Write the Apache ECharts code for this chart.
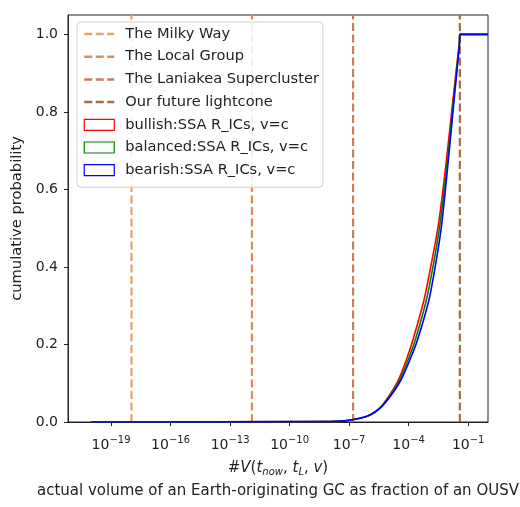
<!DOCTYPE html>
<html>
<head>
<meta charset="utf-8">
<script src="https://cdn.jsdelivr.net/npm/echarts@6/dist/echarts.min.js"></script>
<style>
  html, body { margin: 0; padding: 0; background: #fff; }
  #main { width: 520px; height: 507px; }
</style>
</head>
<body>
<div id="main"></div>
<script>
// x positions given as log10 of the volume fraction, y as cumulative probability
var bullishExp = [-20, -7.97, -7.21, -6.46, -5.95, -5.48, -5.02, -4.52, -4.12, -3.79, -3.23, -2.85, -2.52, -2.27, -2.04, -1.77, -1.45, -1.42, 0];
var balancedExp = [-20, -7.97, -7.21, -6.46, -5.95, -5.46, -4.98, -4.45, -4.03, -3.67, -3.11, -2.74, -2.44, -2.21, -1.99, -1.74, -1.44, -1.42, 0];
var bearishExp = [-20, -7.97, -7.21, -6.46, -5.95, -5.45, -4.94, -4.39, -3.94, -3.56, -2.98, -2.63, -2.35, -2.15, -1.95, -1.71, -1.43, -1.42, 0];
var cumProb = [0, 0.001, 0.003, 0.0095, 0.018, 0.035, 0.065, 0.108, 0.160, 0.211, 0.314, 0.410, 0.503, 0.598, 0.701, 0.830, 0.977, 1.0, 1.0];

var markerNames = ['The Milky Way', 'The Local Group', 'The Laniakea Supercluster', 'Our future lightcone'];
var markerExp = [-17.97, -11.9, -6.8, -1.42];
var markerColors = ['#e6a669', '#e38b52', '#c3805f', '#a86a44'];

var curveNames = ['bullish:SSA R_ICs, v=c', 'balanced:SSA R_ICs, v=c', 'bearish:SSA R_ICs, v=c'];
var curveColors = ['#ff0000', '#008000', '#0000ff'];

var xTickExp = [-19, -16, -13, -10, -7, -4, -1];
var yTicks = [0, 0.2, 0.4, 0.6, 0.8, 1.0];

var font = 'DejaVu Sans';

function toPairs(expArr, probArr) {
    var out = [];
    for (var i = 0; i < expArr.length; i++) {
        out.push([Math.pow(10, expArr[i]), probArr[i]]);
    }
    return out;
}

function each(arr, fn) {
    for (var i = 0; i < arr.length; i++) fn(i, arr[i]);
}

var series = [];

// vertical dashed reference lines
each(markerNames, function (i, name) {
    var xv = Math.pow(10, markerExp[i]);
    series.push({
        name: name,
        type: 'line',
        symbol: 'none',
        silent: true,
        z: 2,
        lineStyle: { color: markerColors[i], width: 2.2, type: [8, 3.5] },
        itemStyle: { color: markerColors[i] },
        data: [[xv, 0], [xv, 1.05]]
    });
});

// cumulative curves
var curveData = [bullishExp, balancedExp, bearishExp];
each(curveNames, function (i, name) {
    series.push({
        name: name,
        type: 'line',
        symbol: 'none',
        smooth: 0.2,
        z: 3 + i,
        lineStyle: { color: curveColors[i], width: 1.6 },
        itemStyle: { color: curveColors[i] },
        data: toPairs(curveData[i], cumProb)
    });
});

var legendData = [];
each(markerNames, function (i, name) {
    // hide the default symbol drawn on line legend icons
    legendData.push({
        name: name,
        itemStyle: { color: 'rgba(0,0,0,0)', borderWidth: 0, opacity: 0 },
        lineStyle: { color: markerColors[i], width: 2.5, type: [8, 3.5] }
    });
});
each(curveNames, function (i, name) {
    legendData.push({
        name: name,
        icon: 'rect',
        itemStyle: { color: '#ffffff', borderColor: curveColors[i], borderWidth: 1.2 }
    });
});

var option = {
    backgroundColor: '#ffffff',
    animation: false,
    textStyle: { fontFamily: font },
    grid: {
        left: 68, right: 32, top: 15, bottom: 85,
        outerBoundsMode: 'none',
        show: true, borderColor: '#222', borderWidth: 1
    },
    legend: {
        orient: 'vertical',
        left: 77, top: 22,
        padding: [4, 4, 9, 6],
        itemWidth: 30, itemHeight: 11,
        itemGap: 6.7,
        backgroundColor: 'rgba(255,255,255,0.85)',
        borderColor: '#d0d0d0', borderWidth: 1, borderRadius: 4,
        textStyle: { fontFamily: font, fontSize: 14.6, color: '#222', lineHeight: 16, padding: [0, 0, 0, 6] },
        data: legendData
    },
    xAxis: {
        type: 'log',
        logBase: 10,
        min: Math.pow(10, -21.17),
        max: Math.pow(10, 0),
        splitLine: { show: false },
        axisLine: { lineStyle: { color: '#222' } },
        axisTick: { length: 4, lineStyle: { color: '#222' }, customValues: xTickExp.map(function (e) { return Math.pow(10, e); }) },
        axisLabel: {
            margin: 16,
            customValues: xTickExp.map(function (e) { return Math.pow(10, e); }),
            formatter: function (v) {
                var e = Math.round(Math.log(v) / Math.LN10);
                return '{b|10}{s|\u2212' + Math.abs(e) + '}';
            },
            rich: {
                b: { fontFamily: font, fontSize: 14, color: '#222', lineHeight: 14 },
                s: { fontFamily: font, fontSize: 10, color: '#222', lineHeight: 10, padding: [0, 0, 9, 0] }
            }
        },
        name: '{r|#}{i|V}{r|(}{i|t}{sb|now}{r|, }{i|t}{sb|L}{r|, }{i|v}{r|)}\n{n|actual volume of an Earth-originating GC as fraction of an OUSV}',
        nameLocation: 'middle',
        nameGap: 35,
        nameTextStyle: {
            rich: {
                r: { fontFamily: font, fontSize: 15, color: '#222', lineHeight: 23 },
                i: { fontFamily: font, fontSize: 15, fontStyle: 'italic', color: '#222', lineHeight: 23 },
                sb: { fontFamily: font, fontSize: 10, fontStyle: 'italic', color: '#222', lineHeight: 23, padding: [8, 0, 0, 0] },
                n: { fontFamily: font, fontSize: 15, color: '#222', lineHeight: 23 }
            }
        }
    },
    yAxis: {
        type: 'value',
        min: 0,
        max: 1.05,
        splitLine: { show: false },
        axisLine: { show: true, lineStyle: { color: '#222' } },
        axisTick: { show: true, length: 4, lineStyle: { color: '#222' }, customValues: yTicks },
        axisLabel: {
            margin: 10,
            fontFamily: font, fontSize: 14, color: '#222',
            customValues: yTicks,
            formatter: function (v) { return v.toFixed(1); }
        },
        name: 'cumulative probability',
        nameLocation: 'middle',
        nameGap: 36,
        nameTextStyle: { fontFamily: font, fontSize: 14.7, color: '#222' }
    },
    series: series
};

var myChart = echarts.init(document.getElementById('main'));
myChart.setOption(option);
</script>
</body>
</html>
